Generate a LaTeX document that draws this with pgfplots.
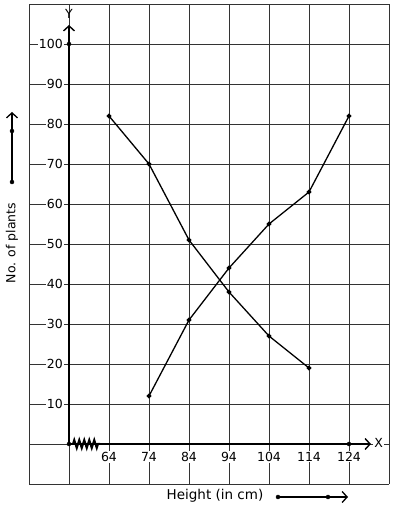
\documentclass[border=0pt]{standalone}
\usepackage{pgfplots}
\pgfplotsset{compat=1.18}
\usepackage{fontspec}
\setmainfont{DejaVu Sans}
\usetikzlibrary{arrows.meta,decorations.pathmorphing}
\definecolor{gridc}{HTML}{333333}
\begin{document}
\begin{tikzpicture}
\begin{axis}[
  scale only axis, width=360pt, height=480pt,
  xmin=-10, xmax=80, ymin=-10, ymax=110,
  enlargelimits=false,
  axis lines=middle,
  axis line style={draw=none},
  clip=false,
  xtick={10,20,30,40,50,60,70},
  xticklabels={64,74,84,94,104,114,124},
  ytick={10,20,30,40,50,60,70,80,90,100},
  yticklabels={10,20,30,40,50,60,70,80,90,100},
  extra x ticks={-10,0,80},
  extra x tick labels={},
  extra y ticks={-10,0,110},
  extra y tick labels={},
  extra tick style={grid=major, ticklabel style={fill=none, draw=none}},
  major tick length=0pt,
  grid=major,
  grid style={gridc, line width=0.9pt},
  ticklabel style={font=\fontsize{12.5}{14}\selectfont, fill=white, inner sep=1pt},
  xticklabel style={anchor=north, yshift=-7pt},
  yticklabel style={anchor=east, xshift=-5pt},
  /pgf/number format/assume math mode=true,
]
% axes
\draw[line width=2.2pt, -{Straight Barb[length=5pt,width=11pt,line width=1.4pt]}] (axis cs:0,0) -- (axis cs:0,104.75);
\draw[line width=2.2pt, -{Straight Barb[length=5pt,width=11pt,line width=1.4pt]}] (axis cs:0,0) -- (axis cs:75.5,0);
\draw[line width=2pt, decorate, decoration={zigzag, segment length=5pt, amplitude=4pt}] (axis cs:1,0) -- (axis cs:7.75,0);
\node[font=\fontsize{12.5}{14}\selectfont, inner sep=0pt] at (axis cs:0,107.6) {Y};
\node[font=\fontsize{12.5}{14}\selectfont, fill=white, inner sep=1pt] at (axis cs:77.4,0.2) {X};
% series
\addplot[black, line width=1.3pt, mark=*, mark size=1.8pt] coordinates {
  (10,82) (20,70) (30,51) (40,38) (50,27) (60,19)};
\addplot[black, line width=1.3pt, mark=*, mark size=1.8pt] coordinates {
  (20,12) (30,31) (40,44) (50,55) (60,63) (70,82)};
\addplot[only marks, black, mark=*, mark size=2pt] coordinates {(0,0) (70,0) (0,100)};
% axis titles
\node[font=\fontsize{12.5}{14}\selectfont, rotate=90] at (axis cs:-14.25,50.25) {No. of plants};
\node[font=\fontsize{13.5}{15}\selectfont] at (axis cs:36.5,-13) {Height (in cm)};
\draw[line width=2pt, -{Straight Barb[length=5pt,width=11pt,line width=1.3pt]}] (axis cs:-14.25,65.5) -- (axis cs:-14.25,83);
\addplot[only marks, black, mark=*, mark size=2pt] coordinates {(-14.25,65.5) (-14.25,78.25)};
\draw[line width=2pt, -{Straight Barb[length=5pt,width=11pt,line width=1.3pt]}] (axis cs:52.25,-13.25) -- (axis cs:69.75,-13.25);
\addplot[only marks, black, mark=*, mark size=2pt] coordinates {(52.25,-13.25) (64.75,-13.25)};
\end{axis}
\pgfresetboundingbox
\path ([shift={(-29pt,-26pt)}]current axis.south west) rectangle ([shift={(5pt,4pt)}]current axis.north east);
\end{tikzpicture}
\end{document}
